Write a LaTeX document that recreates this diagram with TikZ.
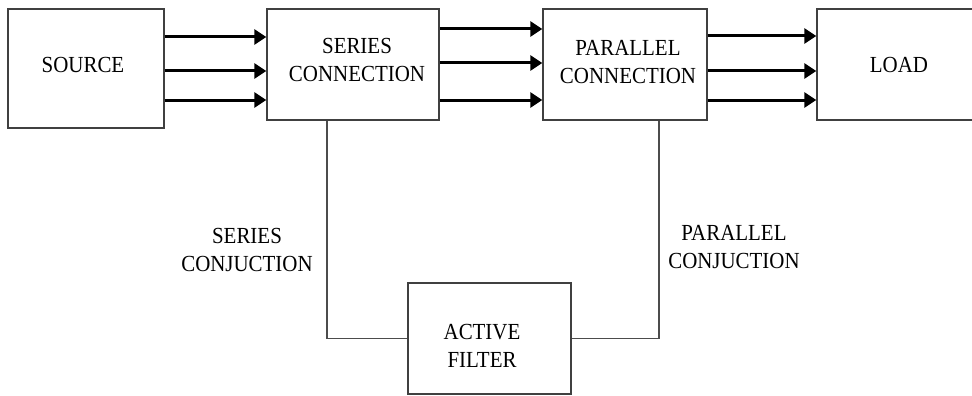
\documentclass[tikz,border=0pt]{standalone}
\usepackage{fontspec}
\setmainfont{Liberation Serif}[FakeStretch=0.91]
\usetikzlibrary{arrows.meta,calc}
\begin{document}
\begin{tikzpicture}[x=1pt,y=-1pt,
  blockbox/.style={draw=black!75,line width=1.4pt,inner sep=0pt,
    minimum width=#1},
  lbl/.style={font=\fontsize{23}{27.5}\selectfont,align=center,inner sep=0pt,text=black},
  flow/.style={line width=3pt,-{Triangle[length=12pt,width=15pt]}},
  wire/.style={draw=black!70,line width=1.4pt}]
\useasboundingbox (0,0) rectangle (972,396);

% main blocks
\node[blockbox=156pt,minimum height=119pt] (src)  at (86,68.5)  {};
\node[blockbox=172pt,minimum height=111pt] (ser)  at (353,64.5) {};
\node[blockbox=164pt,minimum height=111pt] (par)  at (625,64.5) {};
\node[blockbox=164pt,minimum height=111pt] (load) at (899,64.5) {};
\node[blockbox=163pt,minimum height=111pt] (filt) at (489.5,338.5) {};

% block captions
\node[lbl] (srct)  at (83,65)  {SOURCE};
\node[lbl] (sert)  at (357,60) {SERIES\\CONNECTION};
\node[lbl] (part)  at (628,62) {PARALLEL\\CONNECTION};
\node[lbl] (loadt) at (899,65) {LOAD};
\node[lbl] (filtt) at (482,346) {ACTIVE\\FILTER};

% power flow arrows
\foreach \y in {37,71,100}
  \draw[flow] (src.east |- 0,\y) -- (ser.west |- 0,\y);
\foreach \y in {29,63,100}
  \draw[flow] (ser.east |- 0,\y) -- (par.west |- 0,\y);
\foreach \y in {36,71,100}
  \draw[flow] (par.east |- 0,\y) -- (load.west |- 0,\y);

% filter couplings
\coordinate (sj) at (327,120);
\coordinate (pj) at (659,120);
\draw[wire] (ser.south -| sj) |- (filt.west);
\draw[wire] (par.south -| pj) |- (filt.east);

\node[lbl] (sjt) at (247,250) {SERIES\\CONJUCTION};
\node[lbl] (pjt) at (734,247) {PARALLEL\\CONJUCTION};
\end{tikzpicture}
\end{document}
